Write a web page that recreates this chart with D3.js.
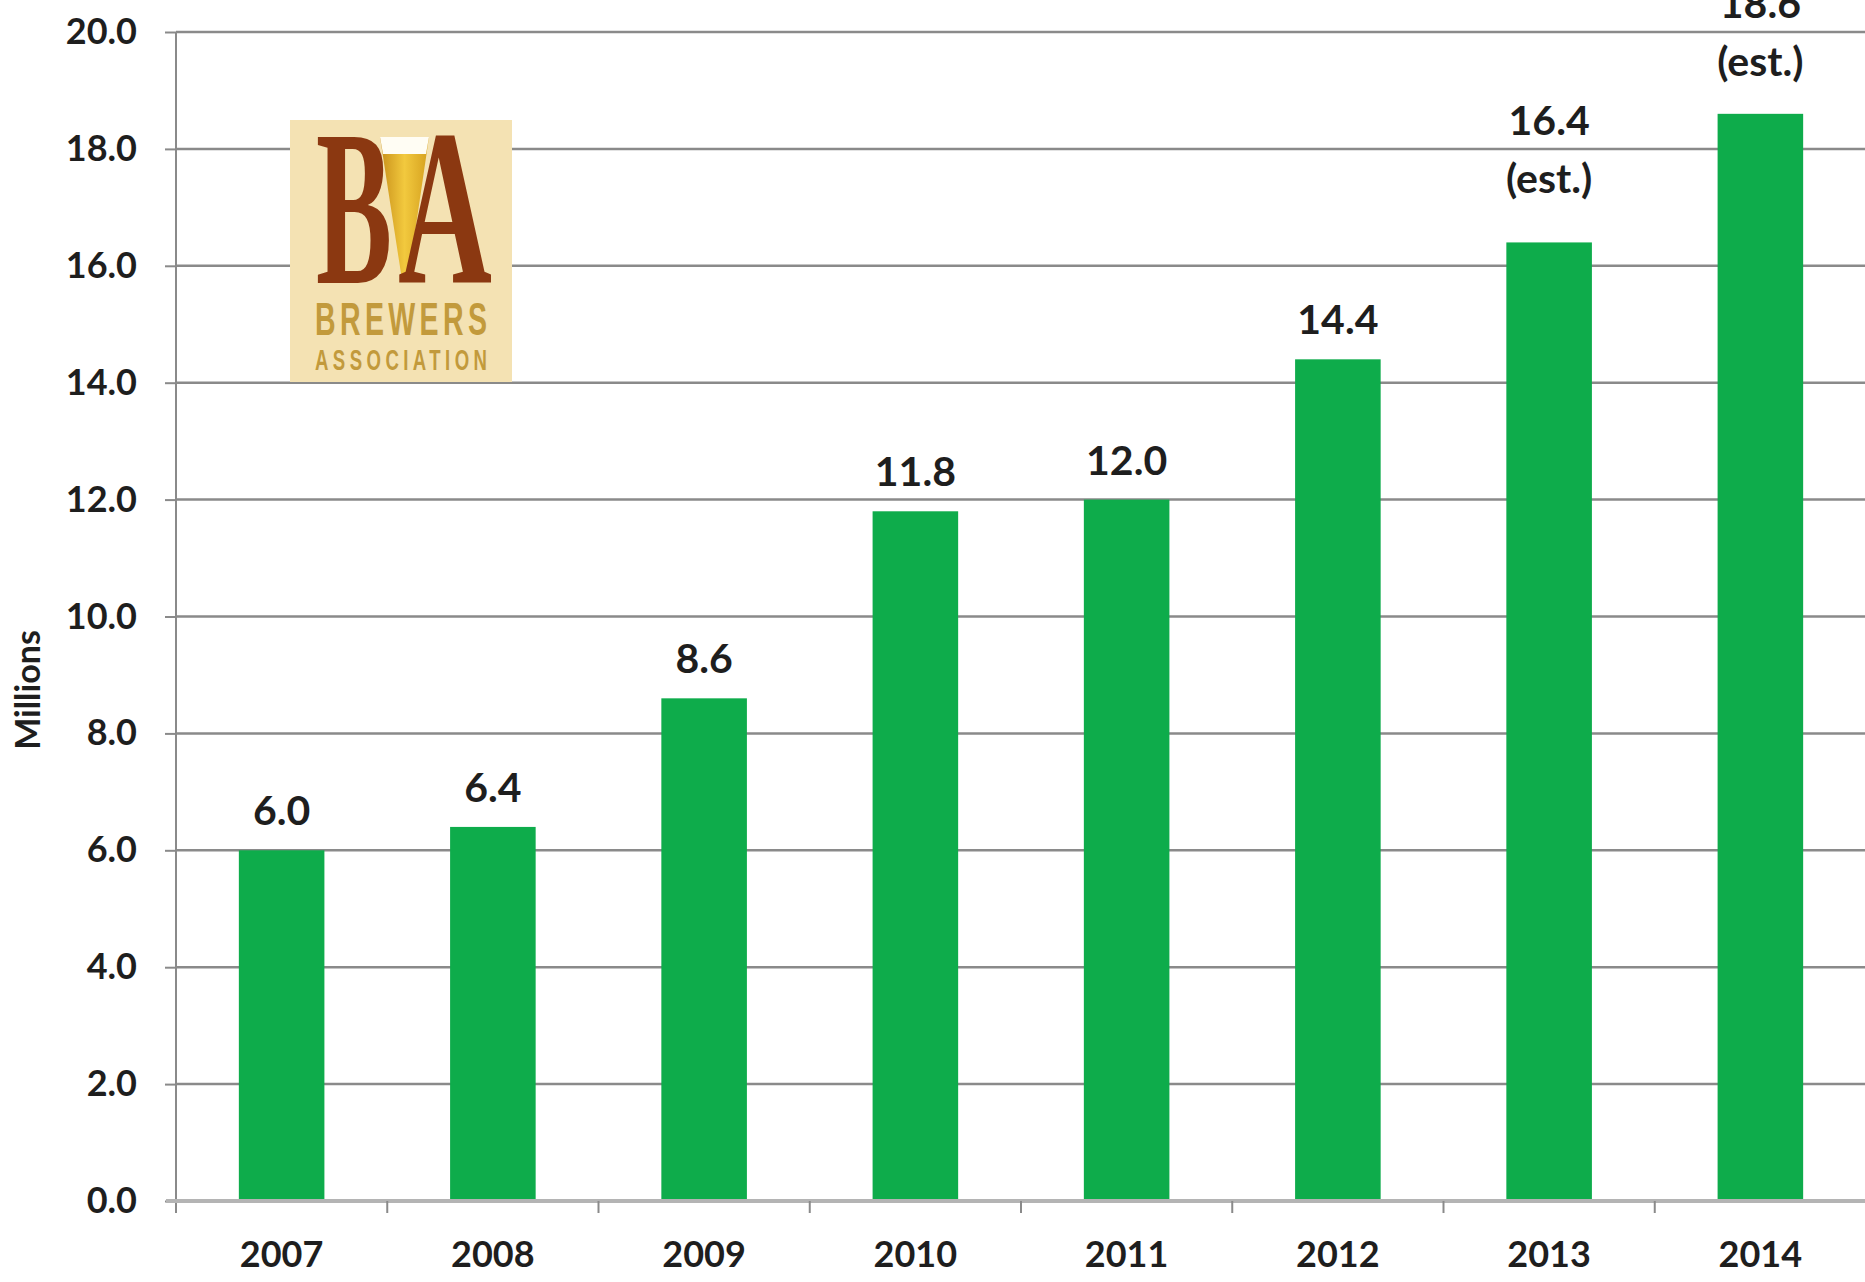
<!DOCTYPE html>
<html>
<head>
<meta charset="utf-8">
<script src="https://cdn.jsdelivr.net/npm/d3@7/dist/d3.min.js"></script>
<style>
  html, body { margin: 0; padding: 0; background: #ffffff; }
  svg { display: block; }
</style>
</head>
<body>
<svg id="chart" width="1865" height="1282"></svg>
<script>
// Craft beer production by year, in millions
const years = ["2007", "2008", "2009", "2010", "2011", "2012", "2013", "2014"];
const values = [6.0, 6.4, 8.6, 11.8, 12.0, 14.4, 16.4, 18.6];
const notes = ["", "", "", "", "", "", "(est.)", "(est.)"];
const yTicks = [0, 2, 4, 6, 8, 10, 12, 14, 16, 18, 20];
const yTitle = "Millions";

const W = 1865, H = 1282;
const plot = { left: 176, right: 1866, top: 32, bottom: 1201 };
const FONT = "Lato, 'Open Sans', 'Liberation Sans', sans-serif";
const INK = "#1e1e1e";
const GRID = "#8a8a8a";
const BAR = "#0eac4b";

const svg = d3.select("#chart");

const x = d3.scaleBand()
  .domain(years)
  .range([plot.left, plot.right])
  .paddingInner(0.595)
  .paddingOuter(0.2975);

const y = d3.scaleLinear()
  .domain([0, 20])
  .range([plot.bottom, plot.top]);

// Horizontal gridlines (the zero line is drawn as the category axis)
svg.append("g")
  .selectAll("line")
  .data(yTicks.filter(d => d > 0))
  .join("line")
  .attr("x1", plot.left)
  .attr("x2", plot.right)
  .attr("y1", d => y(d))
  .attr("y2", d => y(d))
  .attr("stroke", GRID)
  .attr("stroke-width", 2.5);

// Brewers Association logo panel
const logo = svg.append("g").attr("transform", "translate(290,120)");
logo.append("rect")
  .attr("width", 222).attr("height", 262)
  .attr("fill", "#f4e2b3");
const beer = svg.append("defs").append("linearGradient")
  .attr("id", "beerGrad").attr("x1", "0").attr("x2", "1").attr("y1", "0").attr("y2", "0");
beer.append("stop").attr("offset", "0").attr("stop-color", "#c8901a");
beer.append("stop").attr("offset", "0.5").attr("stop-color", "#f2c93e");
beer.append("stop").attr("offset", "1").attr("stop-color", "#d5a01e");
logo.append("text")
  .attr("x", 26).attr("y", 163)
  .attr("font-family", "'Liberation Serif', 'DejaVu Serif', serif")
  .attr("font-weight", "bold")
  .attr("font-size", 222)
  .attr("textLength", 76).attr("lengthAdjust", "spacingAndGlyphs")
  .attr("fill", "#8b3811")
  .text("B");
logo.append("polygon")
  .attr("points", "90,17 139,17 118,160 112,160")
  .attr("fill", "url(#beerGrad)");
logo.append("polygon")
  .attr("points", "90,17 139,17 136,34 93,34")
  .attr("fill", "#fffdf4");
logo.append("text")
  .attr("x", 108).attr("y", 163)
  .attr("font-family", "'Liberation Serif', 'DejaVu Serif', serif")
  .attr("font-weight", "bold")
  .attr("font-size", 222)
  .attr("textLength", 94).attr("lengthAdjust", "spacingAndGlyphs")
  .attr("fill", "#8b3811")
  .text("A");
// Narrow, widely spaced wordmark: glyphs squeezed, spacing spread to fill the width
const squeeze = 0.62;
const word = logo.append("g").attr("transform", `translate(25,0) scale(${squeeze},1)`)
  .attr("font-family", "'Liberation Sans', sans-serif")
  .attr("font-weight", "bold")
  .attr("fill", "#c29a3c");
word.append("text")
  .attr("x", 0).attr("y", 215)
  .attr("font-size", 46)
  .attr("textLength", 172 / squeeze).attr("lengthAdjust", "spacing")
  .text("BREWERS");
word.append("text")
  .attr("x", 0).attr("y", 250)
  .attr("font-size", 30)
  .attr("textLength", 172 / squeeze).attr("lengthAdjust", "spacing")
  .text("ASSOCIATION");

// Bars
svg.append("g")
  .selectAll("rect")
  .data(values)
  .join("rect")
  .attr("x", (d, i) => x(years[i]))
  .attr("width", x.bandwidth())
  .attr("y", d => y(d))
  .attr("height", d => y(0) - y(d))
  .attr("fill", BAR);

// Y axis
const yAxis = svg.append("g")
  .attr("transform", `translate(${plot.left},0)`)
  .call(d3.axisLeft(y).tickValues(yTicks).tickFormat(d3.format(".1f")).tickSize(11).tickPadding(28));
yAxis.select(".domain").remove();
yAxis.selectAll(".tick line").attr("stroke", GRID).attr("stroke-width", 2);
yAxis.selectAll(".tick text")
  .attr("font-family", FONT).attr("font-weight", "bold")
  .attr("font-size", 36).attr("fill", INK);
svg.append("line")
  .attr("x1", plot.left).attr("x2", plot.left)
  .attr("y1", y(20)).attr("y2", y(0) + 12)
  .attr("stroke", GRID).attr("stroke-width", 2);

// X axis: line, boundary ticks and year labels
const xAxis = svg.append("g")
  .attr("transform", `translate(0,${y(0)})`)
  .call(d3.axisBottom(x).tickSize(0).tickPadding(40));
xAxis.select(".domain").remove();
xAxis.selectAll(".tick text")
  .attr("font-family", FONT).attr("font-weight", "bold")
  .attr("font-size", 36).attr("fill", INK);
svg.append("line")
  .attr("x1", plot.left - 10).attr("x2", plot.right)
  .attr("y1", y(0)).attr("y2", y(0))
  .attr("stroke", "#b4b4b4").attr("stroke-width", 4);
const gap = (x.step() - x.bandwidth()) / 2;
svg.append("g")
  .selectAll("line")
  .data(years.slice(1))
  .join("line")
  .attr("x1", d => x(d) - gap)
  .attr("x2", d => x(d) - gap)
  .attr("y1", y(0))
  .attr("y2", y(0) + 12)
  .attr("stroke", GRID).attr("stroke-width", 2);

// Axis title
svg.append("text")
  .attr("transform", `translate(40,690) rotate(-90)`)
  .attr("text-anchor", "middle")
  .attr("font-family", FONT).attr("font-weight", "bold")
  .attr("font-size", 34).attr("fill", INK)
  .text(yTitle);

// Value labels above bars; estimated years carry a second line
const lineH = 58;
const labels = svg.append("g")
  .attr("font-family", FONT).attr("font-weight", "bold")
  .attr("font-size", 41).attr("fill", INK)
  .attr("text-anchor", "middle");
values.forEach((v, i) => {
  const lines = [d3.format(".1f")(v)];
  if (notes[i]) lines.push(notes[i]);
  const lift = notes[i] ? 49 : 25;
  let first = y(v) - lift - (lines.length - 1) * lineH;
  first = Math.max(first, 18);
  const cx = x(years[i]) + x.bandwidth() / 2;
  const t = labels.append("text").attr("x", cx).attr("y", first);
  lines.forEach((s, k) => {
    t.append("tspan").attr("x", cx).attr("dy", k === 0 ? 0 : lineH).text(s);
  });
});
</script>
</body>
</html>
